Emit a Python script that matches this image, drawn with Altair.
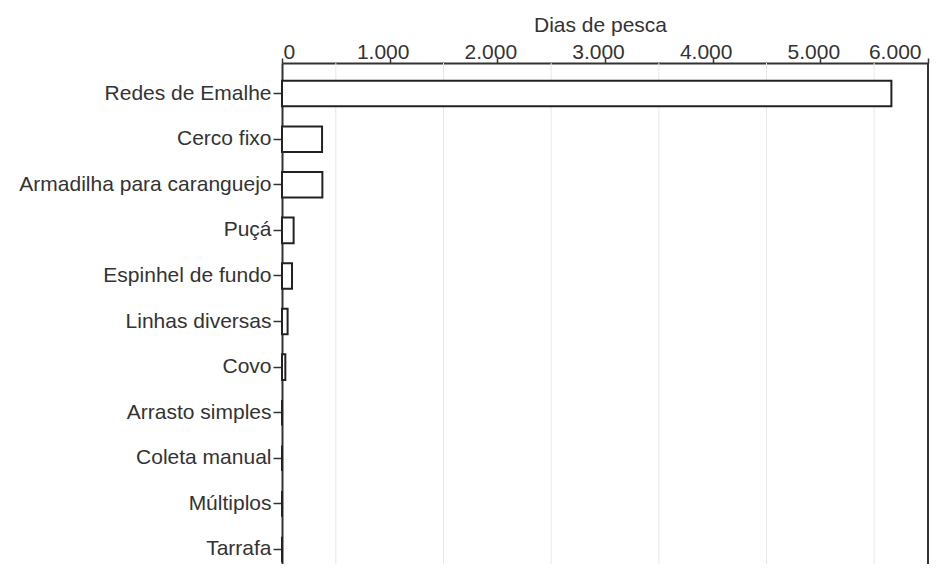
import altair as alt
import pandas as pd

categories = ["Redes de Emalhe", "Cerco fixo", "Armadilha para caranguejo", "Puçá",
              "Espinhel de fundo", "Linhas diversas", "Covo", "Arrasto simples",
              "Coleta manual", "Múltiplos", "Tarrafa"]
dias = [5660, 372, 375, 108, 93, 52, 31, 0, 0, 0, 0]
tick_values = [0, 1000, 2000, 3000, 4000, 5000, 6000]
grid_values = [500, 1500, 2500, 3500, 4500, 5500]
x_max = 6000

W, H = 646, 501
FONT = "Liberation Sans"
TXT = "#333333"

df = pd.DataFrame({"cat": categories, "dias": dias})
gdf = pd.DataFrame({"g": grid_values})

xscale = alt.Scale(domain=[0, x_max], nice=False, zero=True)
xaxis = alt.Axis(orient="top", title="Dias de pesca", values=tick_values,
                 labelExpr="replace(format(datum.value, ','), ',', '.')",
                 grid=False, tickSize=5, tickColor="#333333", tickWidth=1.5,
                 domainColor="#333333", domainWidth=2,
                 labelFont=FONT, labelFontSize=21, labelColor=TXT, labelPadding=-4,
                 labelOffset={"condition": {"test": "datum.value == 0", "value": 1}, "value": -7},
                 titleFont=FONT, titleFontSize=21, titleFontWeight="normal",
                 titleColor=TXT, titlePadding=6, titleX=318)

grid = alt.Chart(gdf).mark_rule(color="#e8e8e8", strokeWidth=1).encode(
    x=alt.X("g:Q", scale=xscale, axis=xaxis),
    y=alt.value(0), y2=alt.value(H),
)

border = alt.Chart(pd.DataFrame({"v": [x_max]})).mark_rule(color="#333333", strokeWidth=2).encode(
    x=alt.X("v:Q", scale=xscale),
    y=alt.value(0), y2=alt.value(H),
)

bars = alt.Chart(df).mark_bar(fill="white", stroke="#222222", strokeWidth=2).encode(
    x=alt.X("dias:Q", scale=xscale),
    y=alt.Y("cat:N", sort=categories,
            scale=alt.Scale(paddingInner=0.44, paddingOuter=0.215, align=0.91),
            axis=alt.Axis(title=None, tickSize=9, tickColor="#333333", tickWidth=1.5,
                          domainColor="#333333", domainWidth=2,
                          labelFont=FONT, labelFontSize=21, labelColor=TXT, labelPadding=2,
                          labelLimit=400)),
)

chart = alt.layer(grid, bars, border).properties(
    width=W, height=H,
    autosize=alt.AutoSizeParams(type="none"),
    padding={"left": 274, "top": 55, "right": 12, "bottom": 0},
).configure_view(stroke=None).configure(background="white")

chart.save("out.html", embed_options={"renderer": "svg", "actions": False})
